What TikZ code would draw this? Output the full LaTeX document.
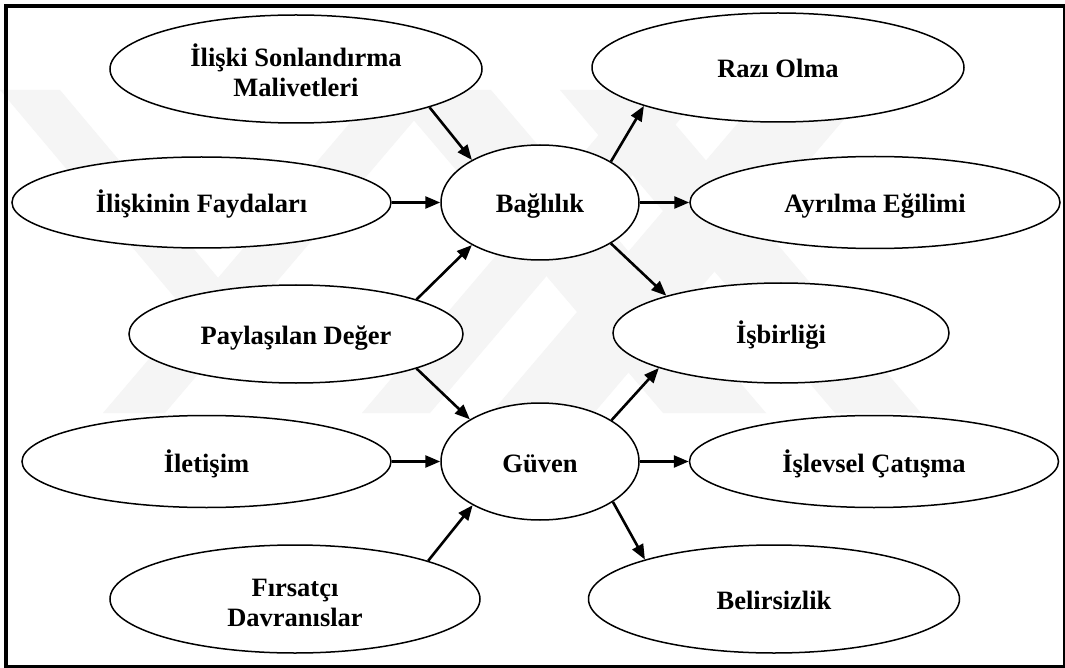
\documentclass[tikz,border=0pt]{standalone}
\usepackage{fontspec}
\setmainfont{Liberation Serif}
\usetikzlibrary{shapes.geometric,arrows.meta}

\tikzset{
  concept/.style={ellipse, draw=black, fill=white, line width=1.5pt, inner sep=0pt,
    align=center, font=\bfseries\fontsize{26.5}{30}\selectfont,
    text height=21pt, text depth=0pt},
  twoline/.style={text height=55.4pt, text depth=0pt},
  wide/.style={concept, minimum width=370pt, minimum height=92pt},
  tall/.style={concept, minimum width=371pt, minimum height=108pt},
  hub/.style={concept, minimum width=198pt, minimum height=116pt},
  link/.style={line width=2.6pt, -{Triangle[length=15pt,width=12pt]}},
  stripe/.style={fill=black!4, draw=none},
}

\begin{document}
\begin{tikzpicture}[x=1pt,y=-1pt]
  \useasboundingbox (0,0) rectangle (1065,668);
  \fill[white] (0,0) rectangle (1065,668);
  \clip (0,0) rectangle (1065,668);

  % faint background emblem made of diagonal stripes
  \fill[stripe] (0,90) -- (60,90) -- (262,330) -- (202,330) -- cycle;
  \fill[stripe] (103,413) -- (165,413) -- (440,90) -- (378,90) -- cycle;
  \fill[stripe] (362,413) -- (430,413) -- (705,90) -- (637,90) -- cycle;
  \fill[stripe] (491,413) -- (594,413) -- (869,90) -- (766,90) -- cycle;
  \fill[stripe] (388,90) -- (491,90) -- (766,413) -- (663,413) -- cycle;
  \fill[stripe] (560,90) -- (646,90) -- (921,413) -- (835,413) -- cycle;

  % outer frame
  \draw[line width=4.6pt] (5.8,6) rectangle (1065.3,667.5);

  % central constructs
  \node[hub, minimum height=115pt] (bag) at (540,202.5) {Bağlılık};
  \node[hub, minimum height=117pt] (guv) at (540,461.5) {Güven};

  % antecedents
  \node[tall, minimum width=372pt, twoline] (mal) at (296,69) {İlişki Sonlandırma\\Malivetleri};
  \node[wide, minimum width=379pt, minimum height=91pt] (fay) at (201.5,202.5) {İlişkinin Faydaları};
  \node[concept, minimum width=334pt, minimum height=98pt] (pay) at (296,334) {Paylaşılan Değer};
  \node[wide, minimum width=369pt] (ile) at (206.5,461.5) {İletişim};
  \node[tall, minimum width=370pt, twoline] (fir) at (295,599) {Fırsatçı\\Davranıslar};

  % outcomes
  \node[tall, minimum width=372pt, minimum height=109pt] (raz) at (778,67.5) {Razı Olma};
  \node[wide] (ayr) at (875,202.5) {Ayrılma Eğilimi};
  \node[concept, minimum width=336pt, minimum height=100pt] (isb) at (781,333) {İşbirliği};
  \node[wide, minimum width=369pt] (isl) at (874,461.5) {İşlevsel Çatışma};
  \node[tall] (bel) at (774,599) {Belirsizlik};

  % paths into commitment
  \draw[link] (mal.-16.4) -- (bag.148.7);
  \draw[link] (fay.east) -- (bag.west);
  \draw[link] (pay.16.8) -- (bag.212.4);
  % paths out of commitment
  \draw[link] (bag.30.3) -- (raz.196.2);
  \draw[link] (bag.east) -- (ayr.west);
  \draw[link] (bag.-30.9) -- (isb.162.7);
  % paths into trust
  \draw[link] (pay.-16.6) -- (guv.149.3);
  \draw[link] (ile.east) -- (guv.west);
  \draw[link] (fir.16.5) -- (guv.213);
  % paths out of trust
  \draw[link] (guv.30.3) -- (isb.196);
  \draw[link] (guv.east) -- (isl.west);
  \draw[link] (guv.-29.7) -- (bel.163.3);
\end{tikzpicture}
\end{document}
